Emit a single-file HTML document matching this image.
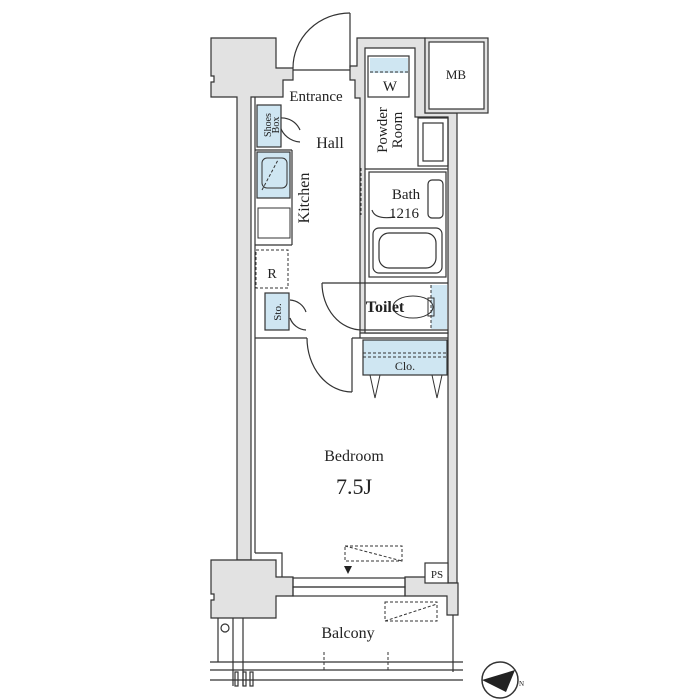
<!DOCTYPE html>
<html><head><meta charset="utf-8"><style>
html,body{margin:0;padding:0;background:#fff;}
svg{display:block;}
text{font-family:"Liberation Serif",serif;fill:#222;}
</style></head><body>
<svg width="700" height="700" viewBox="0 0 700 700" xmlns="http://www.w3.org/2000/svg">
<g stroke="#333" stroke-width="1.2" fill="#e2e2e2">
  <path d="M211,38 H276 V68 H293 V80 H283 V97 H251 V560 H237 V97 H211 V82 H214 V76 H211 Z"/>
  <path d="M211,560 H276 V577 H293 V596 H276 V618 H211 V600 H214 V594 H211 Z"/>
  <path d="M350,66 H357 V38 H425 V113 H457 V583 H448 V333 H360 V98 H355 V80 H350 Z"/>
  <rect x="425" y="38" width="63" height="75"/>
  <path d="M405,577 H448 V583 H458 V615 H447 V596 H405 Z"/>
</g>
<g fill="#fff" stroke="#333" stroke-width="1.2">
  <path d="M365,48 H415 V117 H448 V333 H365 Z"/>
  <rect x="429" y="42" width="55" height="67"/>
</g>
<g stroke="#333" stroke-width="1.2" fill="none">
  <line x1="255" y1="97" x2="255" y2="553"/>
  <path d="M255,553 H282 V577"/>
  <line x1="255" y1="338" x2="307" y2="338"/>
  <line x1="352" y1="338" x2="448" y2="338"/>
  <line x1="360" y1="333" x2="360" y2="338"/>
  <line x1="350" y1="13" x2="350" y2="68"/>
  <path d="M293,68 A57,55 0 0 1 350,13"/>
  <line x1="293" y1="70" x2="350" y2="70"/>
  <line x1="352" y1="338" x2="352" y2="392"/>
  <path d="M307,338 A45,54 0 0 0 352,392"/>
  <path d="M322,283 H362"/>
  <path d="M322,283 A40,47 0 0 0 362,330"/>
  <rect x="293" y="578" width="112" height="9"/>
  <rect x="293" y="587" width="112" height="9"/>
  <rect x="425" y="563" width="23" height="20" fill="#fff"/>
  <rect x="368" y="56" width="41" height="41"/>
  <rect x="418" y="118" width="30" height="48"/>
  <rect x="423" y="123" width="20" height="38"/>
  <line x1="365" y1="169" x2="448" y2="169"/>
  <rect x="369" y="172" width="77" height="105"/>
  <rect x="373" y="228" width="69" height="45" rx="6"/>
  <rect x="379" y="233" width="57" height="35" rx="10"/>
  <path d="M372,210 Q375,220 395,217"/>
  <rect x="428" y="180" width="15" height="38" rx="4"/>
  <line x1="362" y1="283" x2="448" y2="283"/>
  <line x1="362" y1="330" x2="448" y2="330"/>
  <line x1="292" y1="150" x2="292" y2="245"/>
  <line x1="255" y1="150" x2="292" y2="150"/>
  <line x1="255" y1="245" x2="292" y2="245"/>
  <path d="M280,118 A20,20 0 0 1 300,130"/>
  <path d="M280,126 A22,22 0 0 0 300,142"/>
  <path d="M290,300 A18,18 0 0 1 306,312"/>
  <path d="M290,318 A18,18 0 0 0 306,330"/>
  <line x1="210" y1="662" x2="463" y2="662"/>
  <line x1="210" y1="670" x2="463" y2="670"/>
  <line x1="210" y1="680" x2="463" y2="680"/>
  <line x1="218" y1="618" x2="218" y2="662"/>
  <line x1="233" y1="618" x2="233" y2="686"/>
  <line x1="243" y1="618" x2="243" y2="686"/>
  <line x1="453" y1="615" x2="453" y2="672"/>
  <circle cx="225" cy="628" r="4"/>
  <rect x="235" y="672" width="3" height="14"/>
  <rect x="243" y="672" width="3" height="14"/>
  <rect x="250" y="672" width="3" height="14"/>
</g>
<g fill="#cfe6f2" stroke="#333" stroke-width="1.2">
  <rect x="257" y="105" width="24" height="42"/>
  <rect x="257" y="152" width="33" height="46"/>
  <rect x="265" y="293" width="24" height="37"/>
  <rect x="363" y="340" width="84" height="35"/>
  <rect x="370" y="58" width="38" height="15" stroke="none"/>
  <rect x="431" y="285" width="16" height="44" stroke="none"/>
</g>
<g fill="none" stroke="#333" stroke-width="1">
  <rect x="262" y="158" width="25" height="30" rx="5"/>
  <rect x="258" y="208" width="32" height="30"/>
  <ellipse cx="413" cy="307" rx="20" ry="11"/>
  <rect x="428" y="298" width="6" height="18"/>
  <path d="M370,375 L375,398 L380,375 M432,375 L437,398 L442,375"/>
</g>
<g fill="none" stroke="#333" stroke-width="1" stroke-dasharray="3,2">
  <rect x="256" y="250" width="32" height="38"/>
  <line x1="363" y1="353" x2="447" y2="353"/>
  <line x1="363" y1="357" x2="447" y2="357"/>
  <rect x="345" y="546" width="57" height="15"/>
  <line x1="345" y1="546" x2="402" y2="561"/>
  <rect x="385" y="602" width="52" height="19"/>
  <line x1="385" y1="621" x2="437" y2="604"/>
  <line x1="370" y1="72" x2="408" y2="72"/>
  <line x1="262" y1="190" x2="278" y2="160"/>
  <line x1="361" y1="168" x2="361" y2="215"/>
  <line x1="324" y1="652" x2="324" y2="672"/>
  <line x1="388" y1="652" x2="388" y2="672"/>
  <line x1="431" y1="285" x2="431" y2="330"/>
</g>
<path d="M344,566 L352,566 L348,574 Z" fill="#222"/>
<circle cx="500" cy="680" r="18" fill="#fff" stroke="#333" stroke-width="1.5"/>
<path d="M482,680 L515,670 L506,692 Z" fill="#222"/>
<text x="519" y="686" font-size="7">N</text>
<text x="316" y="101" font-size="15" text-anchor="middle">Entrance</text>
<text x="330" y="148" font-size="16" text-anchor="middle">Hall</text>
<text x="456" y="79" font-size="13" text-anchor="middle">MB</text>
<text x="390" y="91" font-size="15" text-anchor="middle">W</text>
<text transform="translate(309,198) rotate(-90)" font-size="16" text-anchor="middle">Kitchen</text>
<text transform="translate(387,130) rotate(-90)" font-size="15" text-anchor="middle">Powder</text>
<text transform="translate(402,130) rotate(-90)" font-size="15" text-anchor="middle">Room</text>
<text transform="translate(271,125) rotate(-90)" font-size="10" text-anchor="middle">Shoes</text>
<text transform="translate(279,125) rotate(-90)" font-size="10" text-anchor="middle">Box</text>
<text x="406" y="199" font-size="15" text-anchor="middle">Bath</text>
<text x="404" y="218" font-size="15" text-anchor="middle">1216</text>
<text x="272" y="278" font-size="14" text-anchor="middle">R</text>
<text transform="translate(281,312) rotate(-90)" font-size="11" text-anchor="middle">Sto.</text>
<text x="385" y="312" font-size="16" font-weight="bold" text-anchor="middle">Toilet</text>
<text x="405" y="370" font-size="12" text-anchor="middle">Clo.</text>
<text x="354" y="461" font-size="16" text-anchor="middle">Bedroom</text>
<text x="354" y="494" font-size="22" text-anchor="middle">7.5J</text>
<text x="437" y="578" font-size="11" text-anchor="middle">PS</text>
<text x="348" y="638" font-size="16" text-anchor="middle">Balcony</text>
</svg>
</body></html>
